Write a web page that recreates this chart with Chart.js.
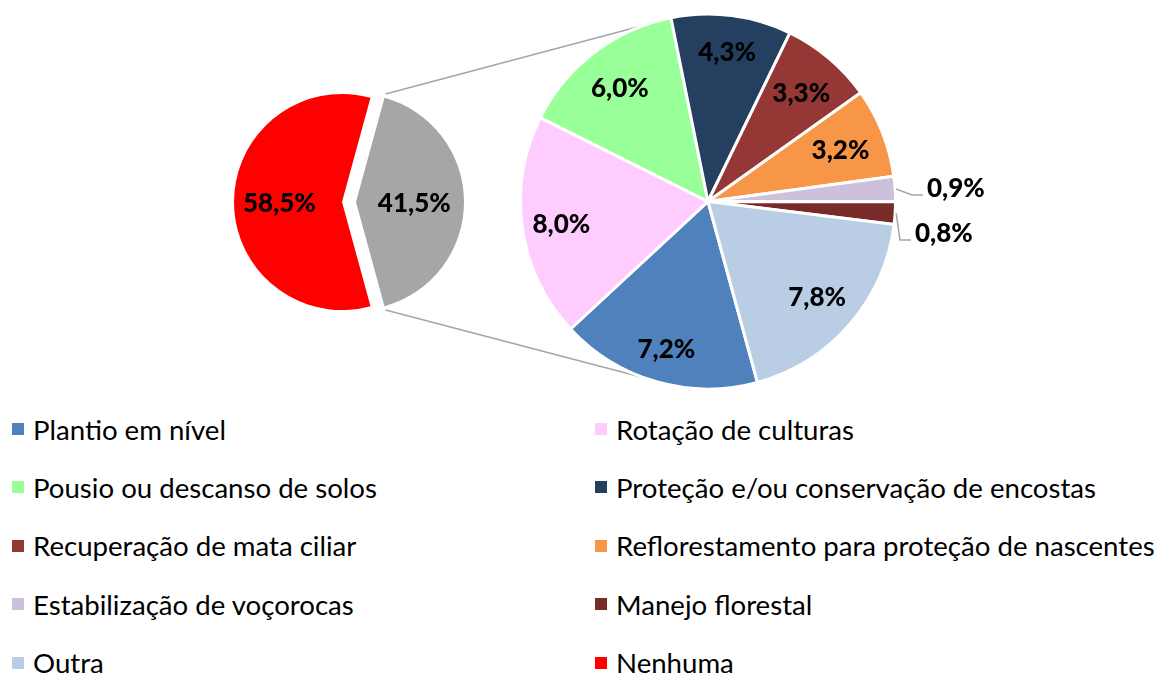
<!DOCTYPE html>
<html>
<head>
<meta charset="utf-8">
<script src="https://cdn.jsdelivr.net/npm/chart.js@4.4.0/dist/chart.umd.min.js"></script>
<style>
  body { margin: 0; background: #fff; }
  #wrap { position: relative; width: 1156px; height: 673px; font-family: Lato, "Noto Sans", sans-serif; }
  #wrap canvas { position: absolute; left: 0; top: 0; }
  .legend-item { position: absolute; display: flex; align-items: center; height: 40px; font-size: 27.6px; color: #000; white-space: nowrap; }
  .legend-item .box { width: 12px; height: 12px; margin-right: 9px; }
</style>
</head>
<body>
<div id="wrap">
  <canvas id="mainPie" width="1156" height="400"></canvas>
  <canvas id="detailPie" width="1156" height="400"></canvas>
  <div id="legend"></div>
</div>
<script>
  // First pie: "Nenhuma" vs. the share split out into the second pie
  const mainLabels = ["Nenhuma", "Alguma prática"];
  const mainShares = [58.5, 41.5];
  const mainColors = ["#FF0000", "#A6A6A6"];

  // Second pie: practices adopted
  const practices = [
    "Plantio em nível",
    "Rotação de culturas",
    "Pousio ou descanso de solos",
    "Proteção e/ou conservação de encostas",
    "Recuperação de mata ciliar",
    "Reflorestamento para proteção de nascentes",
    "Estabilização de voçorocas",
    "Manejo florestal",
    "Outra",
  ];
  const practiceShares = [7.2, 8.0, 6.0, 4.3, 3.3, 3.2, 0.9, 0.8, 7.8];
  const practiceColors = [
    "#4F81BD", "#FFCCFF", "#99FF99", "#243F60", "#953735",
    "#F79646", "#CCC0DA", "#772C2A", "#B9CDE5",
  ];

  // legend shows the practices followed by "Nenhuma"
  const legendLabels = practices.concat([mainLabels[0]]);
  const legendColors = practiceColors.concat([mainColors[0]]);

  function fmt(v) {
    return v.toFixed(1).replace(".", ",") + "%";
  }

  // split slice sits centred on the right-hand side
  const startRotation = 90 + (mainShares[1] / 100) * 180;

  // pushes one slice outward along its middle angle
  const explode = {
    id: "explode",
    afterDatasetsUpdate(chart, args, opts) {
      if (!opts.distance) return;
      const arc = chart.getDatasetMeta(0).data[opts.index];
      const mid = (arc.startAngle + arc.endAngle) / 2;
      arc.x += Math.cos(mid) * opts.distance;
      arc.y += Math.sin(mid) * opts.distance;
    },
  };

  const sliceLabels = {
    id: "sliceLabels",
    afterDatasetsDraw(chart, args, opts) {
      const ctx = chart.ctx;
      const meta = chart.getDatasetMeta(0);
      const values = chart.data.datasets[0].data;
      const outside = opts.outside || {};
      ctx.save();
      ctx.font = "900 26px Lato";
      ctx.fillStyle = "#000";
      ctx.textBaseline = "middle";
      meta.data.forEach((arc, i) => {
        const mid = (arc.startAngle + arc.endAngle) / 2;
        const r = arc.outerRadius;
        const text = fmt(values[i]);
        const out = outside[i];
        if (out) {
          // small slices: label beside the pie with an elbow leader line
          const tx = arc.x + r + out.dx;
          const ty = arc.y + out.dy;
          const lineY = ty + 8;
          ctx.strokeStyle = "#A6A6A6";
          ctx.lineWidth = 1.5;
          ctx.beginPath();
          ctx.moveTo(arc.x + Math.cos(mid) * (r + 1), arc.y + Math.sin(mid) * (r + 1));
          ctx.lineTo(tx - 15, lineY);
          ctx.lineTo(tx - 4, lineY);
          ctx.stroke();
          ctx.textAlign = "left";
          ctx.fillText(text, tx, ty + 2);
        } else {
          const at = opts.at[i];
          ctx.textAlign = "center";
          ctx.fillText(text, arc.x + Math.cos(mid) * r * at, arc.y + Math.sin(mid) * r * at + 2);
        }
      });
      ctx.restore();
    },
  };

  const mainChart = new Chart(document.getElementById("mainPie"), {
    type: "pie",
    data: {
      labels: mainLabels,
      datasets: [
        {
          data: mainShares,
          backgroundColor: mainColors,
          borderWidth: 0,
        },
      ],
    },
    options: {
      responsive: false,
      animation: false,
      rotation: startRotation,
      radius: 108,
      layout: { padding: { left: 222, right: 694, top: 82, bottom: 78 } },
      events: [],
      plugins: {
        legend: { display: false },
        tooltip: { enabled: false },
        explode: { index: 1, distance: 14 },
        sliceLabels: { at: [0.58, 0.54] },
      },
    },
    plugins: [explode, sliceLabels],
  });

  // grey lines joining the split slice to the second pie
  const connectors = {
    id: "connectors",
    beforeDatasetsDraw(chart, args, opts) {
      const split = mainChart.getDatasetMeta(0).data[1];
      const pie = chart.getDatasetMeta(0).data[0];
      const ctx = chart.ctx;
      ctx.save();
      ctx.strokeStyle = "#A6A6A6";
      ctx.lineWidth = 1.5;
      [
        [split.startAngle, -opts.angle],
        [split.endAngle, opts.angle],
      ].forEach(([a, b]) => {
        const t = (b * Math.PI) / 180;
        ctx.beginPath();
        ctx.moveTo(split.x + Math.cos(a) * (split.outerRadius + 4), split.y + Math.sin(a) * (split.outerRadius + 4));
        ctx.lineTo(pie.x + Math.cos(t) * pie.outerRadius, pie.y + Math.sin(t) * pie.outerRadius);
        ctx.stroke();
      });
      ctx.restore();
    },
  };

  const detailChart = new Chart(document.getElementById("detailPie"), {
    type: "pie",
    data: {
      labels: practices,
      datasets: [
        {
          data: practiceShares,
          backgroundColor: practiceColors,
          borderColor: "#FFFFFF",
          borderWidth: 3,
        },
      ],
    },
    options: {
      responsive: false,
      animation: false,
      rotation: startRotation,
      radius: 187.5,
      layout: { padding: { left: 518, right: 258, top: 11.5, bottom: 8.5 } },
      events: [],
      plugins: {
        legend: { display: false },
        tooltip: { enabled: false },
        connectors: { angle: 110 },
        sliceLabels: {
          at: [0.81, 0.79, 0.773, 0.81, 0.77, 0.76, 0, 0, 0.77],
          outside: { 6: { dx: 31.5, dy: -14.5 }, 7: { dx: 19.5, dy: 30.5 } },
        },
      },
    },
    plugins: [connectors, sliceLabels],
  });

  // Legend: two columns, row by row
  const legend = document.getElementById("legend");
  const legendCols = [12, 595];
  legendLabels.forEach((label, i) => {
    const item = document.createElement("div");
    item.className = "legend-item";
    item.style.left = legendCols[i % 2] + "px";
    item.style.top = 429 + Math.floor(i / 2) * 58.4 - 20 + "px";
    const box = document.createElement("span");
    box.className = "box";
    box.style.background = legendColors[i];
    item.appendChild(box);
    item.appendChild(document.createTextNode(label));
    legend.appendChild(item);
  });
</script>
</body>
</html>
